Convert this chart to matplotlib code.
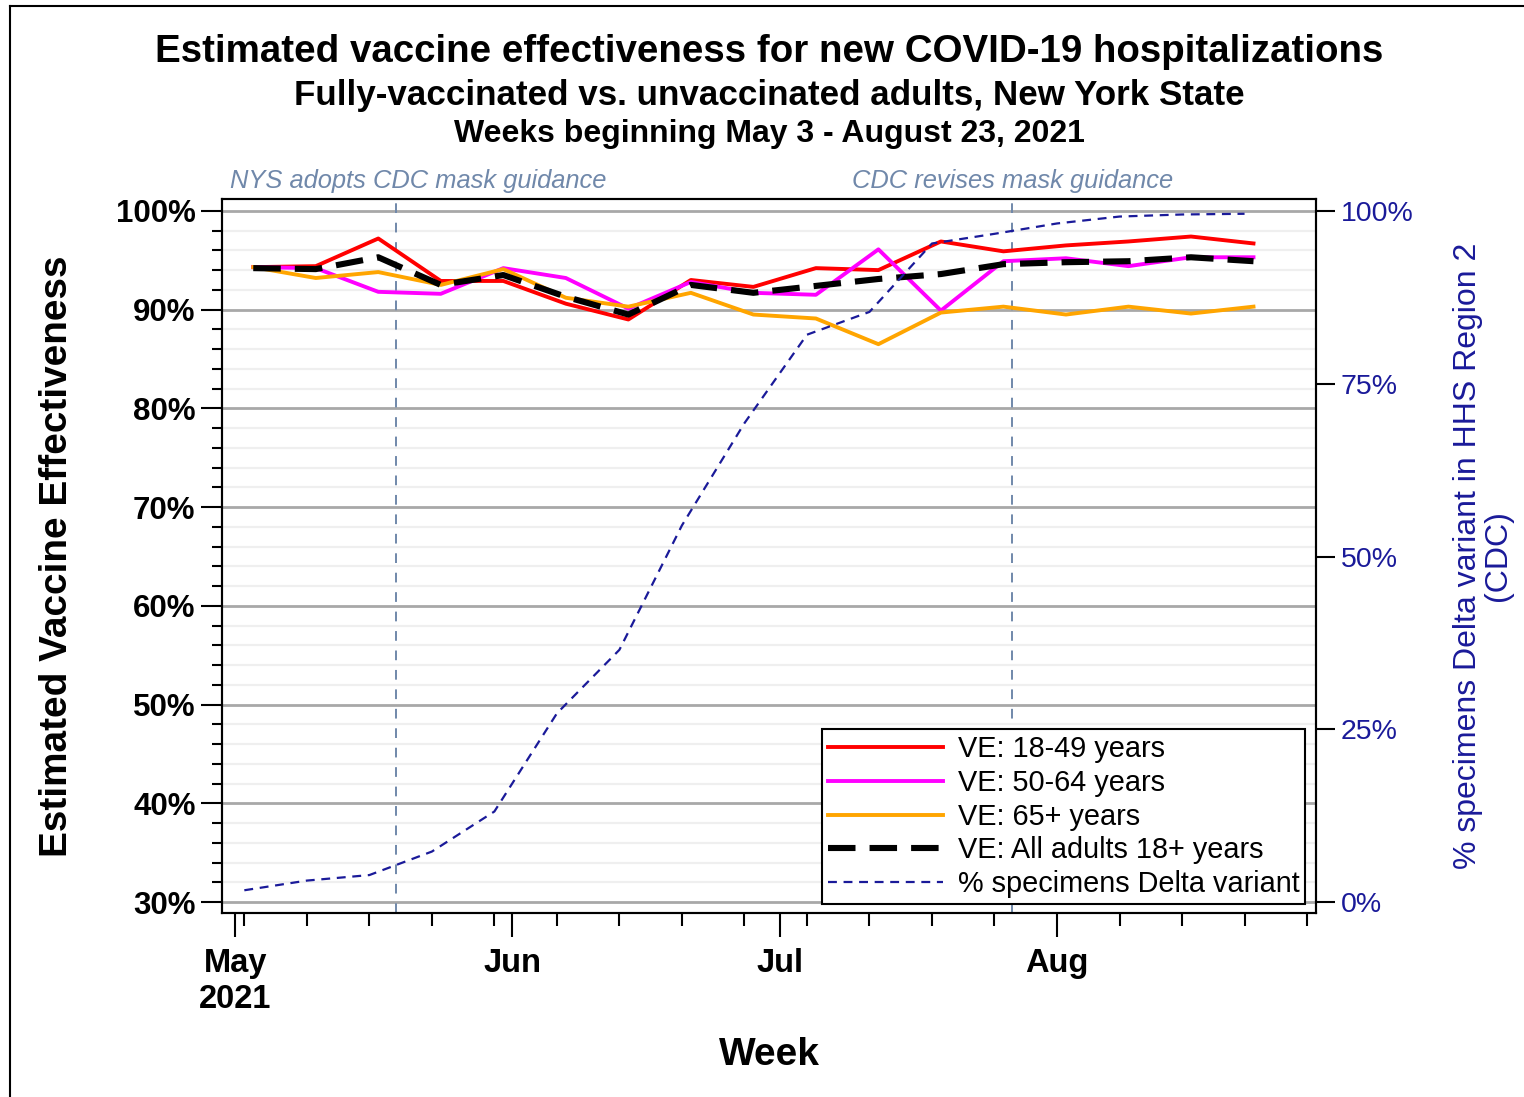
import numpy as np
import pandas as pd
import matplotlib
matplotlib.use("Agg")
import matplotlib.pyplot as plt
import matplotlib.dates as mdates
from matplotlib.lines import Line2D
from matplotlib.ticker import MultipleLocator, FuncFormatter

plt.rcParams['font.family'] = ['Liberation Sans', 'DejaVu Sans']

# weeks (Mondays) for the VE estimates
week_dates = ['2021-05-03', '2021-05-10', '2021-05-17', '2021-05-24', '2021-05-31',
              '2021-06-07', '2021-06-14', '2021-06-21', '2021-06-28', '2021-07-05',
              '2021-07-12', '2021-07-19', '2021-07-26', '2021-08-02', '2021-08-09',
              '2021-08-16', '2021-08-23']
ve_18_49 = [94.3, 94.4, 97.2, 92.9, 92.9, 90.6, 89.0, 93.0, 92.3, 94.2,
            94.0, 96.9, 95.9, 96.5, 96.9, 97.4, 96.7]
ve_50_64 = [94.3, 94.2, 91.8, 91.6, 94.2, 93.2, 90.1, 92.8, 91.7, 91.5,
            96.1, 89.9, 94.9, 95.2, 94.4, 95.3, 95.3]
ve_65 = [94.3, 93.2, 93.8, 92.5, 94.1, 91.2, 90.3, 91.7, 89.5, 89.1,
         86.5, 89.7, 90.3, 89.5, 90.3, 89.6, 90.3]
ve_all = [94.2, 94.1, 95.3, 92.5, 93.5, 91.3, 89.5, 92.5, 91.7, 92.4,
          93.1, 93.6, 94.6, 94.8, 94.9, 95.3, 94.9]

# CDC Delta share (weeks starting Sunday)
delta_dates = ['2021-05-02', '2021-05-09', '2021-05-16', '2021-05-23', '2021-05-30',
               '2021-06-06', '2021-06-13', '2021-06-20', '2021-06-27', '2021-07-04',
               '2021-07-11', '2021-07-18', '2021-07-25', '2021-08-01', '2021-08-08',
               '2021-08-15', '2021-08-22']
delta_pct = [1.7, 3.1, 3.9, 7.3, 13.1, 27.3, 36.5, 54.5, 69.3, 82.1,
             85.4, 95.3, 96.7, 98.2, 99.2, 99.5, 99.6]

month_ticks = ['2021-05-01', '2021-06-01', '2021-07-01', '2021-08-01']
month_labels = ['May\n2021', 'Jun', 'Jul', 'Aug']

events = ['2021-05-19', '2021-07-27']
event_labels = ['NYS adopts CDC mask guidance', 'CDC revises mask guidance']

x = pd.to_datetime(week_dates)
xd = pd.to_datetime(delta_dates)

W, H = 1524, 1097
fig = plt.figure(figsize=(W / 100, H / 100), dpi=100)
ax = fig.add_axes([222 / W, 1 - 913 / H, (1316 - 222) / W, (913 - 199) / H])
ax2 = ax.twinx()

ev_color = '#7088aa'
navy = '#1a1a99'

# grid
for v in range(30, 101, 2):
    if v % 10 == 0:
        ax.axhline(v, color='#a8a8a8', lw=2, zorder=1)
    else:
        ax.axhline(v, color='#efefef', lw=1.6, zorder=0.5)

for d in events:
    ax.axvline(pd.Timestamp(d), color=ev_color, lw=1.4, ls=(0, (5, 5)), zorder=1.5)

l1, = ax.plot(x, ve_18_49, color='#ff0000', lw=2.8, zorder=3, label='VE: 18-49 years')
l2, = ax.plot(x, ve_50_64, color='#ff00ff', lw=2.8, zorder=3, label='VE: 50-64 years')
l3, = ax.plot(x, ve_65, color='#ffa500', lw=2.8, zorder=3, label='VE: 65+ years')
l4, = ax.plot(x, ve_all, color='black', lw=4.4, ls=(0, (4.5, 2.3)), zorder=4,
              label='VE: All adults 18+ years')
l5, = ax2.plot(xd, delta_pct, color=navy, lw=1.6, ls=(0, (4, 3)), zorder=3,
               label='% specimens Delta variant')

ax.set_xlim(pd.Timestamp('2021-04-29 12:00'), pd.Timestamp('2021-08-30'))
ax.set_ylim(28.9, 101.2)
ax2.set_ylim(-1.59, 101.74)

ax.set_yticks(range(30, 101, 10))
ax.yaxis.set_minor_locator(MultipleLocator(2))
ax.yaxis.set_major_formatter(FuncFormatter(lambda v, p: f'{v:.0f}%'))
ax.tick_params(axis='y', which='major', length=15, width=1.5, pad=4,
               labelsize=22.5)
ax.tick_params(axis='y', which='minor', length=7, width=1.5)
for t in ax.get_yticklabels():
    t.set_fontweight('bold')

ax.set_xticks(pd.to_datetime(month_ticks))
ax.set_xticklabels(month_labels)
ax.xaxis.set_minor_locator(mdates.WeekdayLocator(byweekday=mdates.SU))
ax.tick_params(axis='x', which='major', length=17, width=1.5, pad=8,
               labelsize=23.5)
ax.tick_params(axis='x', which='minor', length=9, width=1.5)
for t in ax.get_xticklabels():
    t.set_fontweight('bold')

ax2.set_yticks([0, 25, 50, 75, 100])
ax2.yaxis.set_major_formatter(FuncFormatter(lambda v, p: f'{v:.0f}%'))
ax2.tick_params(axis='y', length=14, width=1.5, pad=4, labelsize=20.5,
                labelcolor=navy)

for a in (ax, ax2):
    for s in a.spines.values():
        s.set_linewidth(1.5)

# event labels above the plot
ax.text(0.007, 1.025, event_labels[0], transform=ax.transAxes, ha='left',
        va='center', fontsize=18.4, style='italic', color=ev_color)
ax.text(pd.Timestamp(events[1]), 1.025, event_labels[1],
        transform=ax.get_xaxis_transform(), ha='center', va='center',
        fontsize=18.4, style='italic', color=ev_color)

leg = ax2.legend(handles=[l1, l2, l3, l4, l5], loc='lower right',
                 bbox_to_anchor=(0.990, 0.0126), borderaxespad=0,
                 fontsize=20.8, handlelength=4.0, handletextpad=0.5,
                 labelspacing=0.2, borderpad=0.2, fancybox=False,
                 framealpha=1, edgecolor='black')
leg.get_frame().set_linewidth(1.5)

# titles and axis labels
fig.text(769 / W, 1 - 52 / H, 'Estimated vaccine effectiveness for new COVID-19 hospitalizations',
         ha='center', va='center', fontsize=27.7, fontweight='bold')
fig.text(769 / W, 1 - 95 / H, 'Fully-vaccinated vs. unvaccinated adults, New York State',
         ha='center', va='center', fontsize=25.2, fontweight='bold')
fig.text(769 / W, 1 - 134 / H, 'Weeks beginning May 3 - August 23, 2021',
         ha='center', va='center', fontsize=23, fontweight='bold')
fig.text(769 / W, 1 - 1055 / H, 'Week', ha='center', va='center',
         fontsize=28, fontweight='bold')
fig.text(57 / W, 1 - 556 / H, 'Estimated Vaccine Effectiveness', ha='center',
         va='center', rotation=90, fontsize=27.9, fontweight='bold')
fig.text(1483 / W, 1 - 556 / H, '% specimens Delta variant in HHS Region 2\n(CDC)',
         ha='center', va='center', rotation=90, fontsize=23, color=navy,
         multialignment='center', linespacing=1.0)

# frame of the original screenshot
fig.add_artist(Line2D([10 / W, 10 / W], [0, 1 - 6 / H], transform=fig.transFigure,
                      color='black', lw=1.5))
fig.add_artist(Line2D([10 / W, 1], [1 - 6 / H, 1 - 6 / H], transform=fig.transFigure,
                      color='black', lw=1.5))

fig.savefig('out.png', dpi=100)
